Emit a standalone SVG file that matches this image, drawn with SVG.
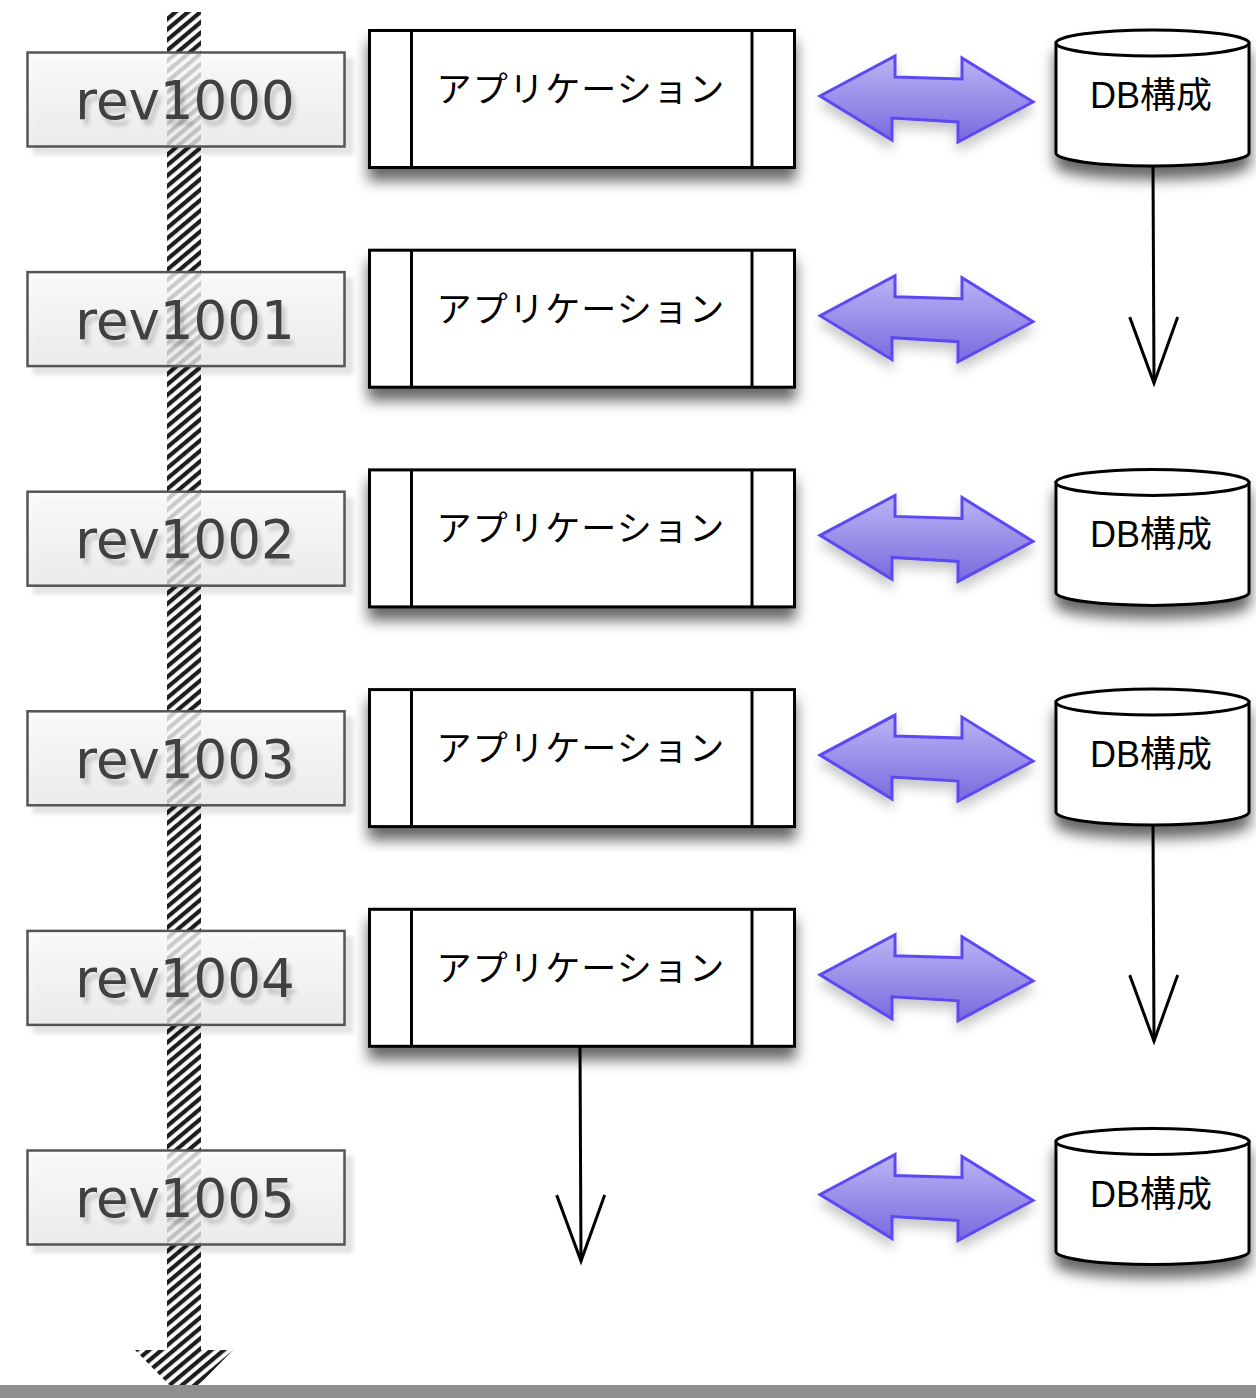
<svg xmlns="http://www.w3.org/2000/svg" width="1256" height="1398" viewBox="0 0 1256 1398">
<defs>
  <pattern id="hatch" patternUnits="userSpaceOnUse" width="8" height="8" patternTransform="rotate(50)">
    <rect width="8" height="8" fill="#ffffff"/>
    <rect width="4.2" height="8" fill="#1e1e1e"/>
  </pattern>
  <linearGradient id="revFill" x1="0" y1="0" x2="0" y2="1">
    <stop offset="0" stop-color="#fbfbfb"/>
    <stop offset="1" stop-color="#e9e9e9"/>
  </linearGradient>
  <linearGradient id="dblFill" x1="0" y1="0" x2="0" y2="1">
    <stop offset="0" stop-color="#bcb5f5"/>
    <stop offset="1" stop-color="#786ade"/>
  </linearGradient>
  <filter id="shBox" x="-10%" y="-20%" width="120%" height="160%">
    <feDropShadow dx="0" dy="12" stdDeviation="7" flood-color="#000" flood-opacity="0.6"/>
  </filter>
  <filter id="shDbl" x="-20%" y="-30%" width="140%" height="170%">
    <feDropShadow dx="0" dy="8" stdDeviation="6" flood-color="#000" flood-opacity="0.22"/>
  </filter>
  <filter id="shRev" x="-10%" y="-20%" width="125%" height="150%">
    <feDropShadow dx="7" dy="7" stdDeviation="2" flood-color="#000" flood-opacity="0.13"/>
  </filter>
  <filter id="shText" x="-10%" y="-30%" width="125%" height="170%">
    <feDropShadow dx="4" dy="6" stdDeviation="2" flood-color="#000" flood-opacity="0.18"/>
  </filter>
  <marker id="vhead" markerUnits="userSpaceOnUse" viewBox="0 0 70 52" refX="66" refY="26" markerWidth="70" markerHeight="52" orient="auto" overflow="visible">
    <path d="M0,2 L66,26 L0,50" fill="none" stroke="#000" stroke-width="3"/>
  </marker>
</defs>
<style>
  .rev rect { fill: url(#revFill); fill-opacity: 0.78; stroke: #555; stroke-width: 2.5; }
  .rev text { font-family: "DejaVu Sans", Verdana, sans-serif; font-size: 53px; fill: #404040; text-anchor: middle; }
  .app rect { fill: #fff; stroke: #000; stroke-width: 3; }
  .app line { stroke: #000; stroke-width: 3; }
  .app text { font-family: "Noto Sans CJK JP", sans-serif; font-size: 35px; letter-spacing: 1.2px; fill: #000; text-anchor: middle; }
  .db path, .db ellipse { fill: #fff; stroke: #000; stroke-width: 3; }
  .db text { font-family: "Liberation Sans", "Noto Sans CJK JP", sans-serif; font-size: 36px; fill: #000; text-anchor: middle; }
  .dbl { fill: url(#dblFill); stroke: #5b49f2; stroke-width: 3; stroke-linejoin: miter; }
  .down { fill: none; stroke: #000; stroke-width: 3; marker-end: url(#vhead); }
</style>
<rect x="0" y="0" width="1256" height="1398" fill="#ffffff"/>

<g id="timeline">
  <path d="M167,12 L201,12 L201,1350 L233,1350 L184,1400 L135,1350 L167,1350 Z" fill="url(#hatch)"/>
</g>

<g id="rev1000" class="rev" filter="url(#shRev)">
  <rect x="27.5" y="52.5" width="317" height="94"/>
  <text x="185" y="119" filter="url(#shText)">rev1000</text>
</g>
<g id="rev1001" class="rev" filter="url(#shRev)" transform="translate(0,219.6)">
  <rect x="27.5" y="52.5" width="317" height="94"/>
  <text x="185" y="119" filter="url(#shText)">rev1001</text>
</g>
<g id="rev1002" class="rev" filter="url(#shRev)" transform="translate(0,439.2)">
  <rect x="27.5" y="52.5" width="317" height="94"/>
  <text x="185" y="119" filter="url(#shText)">rev1002</text>
</g>
<g id="rev1003" class="rev" filter="url(#shRev)" transform="translate(0,658.8)">
  <rect x="27.5" y="52.5" width="317" height="94"/>
  <text x="185" y="119" filter="url(#shText)">rev1003</text>
</g>
<g id="rev1004" class="rev" filter="url(#shRev)" transform="translate(0,878.4)">
  <rect x="27.5" y="52.5" width="317" height="94"/>
  <text x="185" y="119" filter="url(#shText)">rev1004</text>
</g>
<g id="rev1005" class="rev" filter="url(#shRev)" transform="translate(0,1098)">
  <rect x="27.5" y="52.5" width="317" height="94"/>
  <text x="185" y="119" filter="url(#shText)">rev1005</text>
</g>

<g id="app0" class="app" transform="translate(0,0)">
  <rect x="369.5" y="30.5" width="425" height="137" filter="url(#shBox)"/>
  <line x1="411.5" y1="30.5" x2="411.5" y2="167.5"/>
  <line x1="752" y1="30.5" x2="752" y2="167.5"/>
  <text x="581" y="102">アプリケーション</text>
</g>
<g id="app1" class="app" transform="translate(0,219.7)">
  <rect x="369.5" y="30.5" width="425" height="137" filter="url(#shBox)"/>
  <line x1="411.5" y1="30.5" x2="411.5" y2="167.5"/>
  <line x1="752" y1="30.5" x2="752" y2="167.5"/>
  <text x="581" y="102">アプリケーション</text>
</g>
<g id="app2" class="app" transform="translate(0,439.4)">
  <rect x="369.5" y="30.5" width="425" height="137" filter="url(#shBox)"/>
  <line x1="411.5" y1="30.5" x2="411.5" y2="167.5"/>
  <line x1="752" y1="30.5" x2="752" y2="167.5"/>
  <text x="581" y="102">アプリケーション</text>
</g>
<g id="app3" class="app" transform="translate(0,659.1)">
  <rect x="369.5" y="30.5" width="425" height="137" filter="url(#shBox)"/>
  <line x1="411.5" y1="30.5" x2="411.5" y2="167.5"/>
  <line x1="752" y1="30.5" x2="752" y2="167.5"/>
  <text x="581" y="102">アプリケーション</text>
</g>
<g id="app4" class="app" transform="translate(0,878.8)">
  <rect x="369.5" y="30.5" width="425" height="137" filter="url(#shBox)"/>
  <line x1="411.5" y1="30.5" x2="411.5" y2="167.5"/>
  <line x1="752" y1="30.5" x2="752" y2="167.5"/>
  <text x="581" y="102">アプリケーション</text>
</g>

<g id="db0" class="db" transform="translate(0,0)">
  <g filter="url(#shBox)">
    <path d="M1056,43 L1056,153 A96.5,13 0 0 0 1249,153 L1249,43 Z"/>
    <ellipse cx="1152.5" cy="43" rx="96.5" ry="13"/>
  </g>
  <text x="1151" y="108">DB構成</text>
</g>
<g id="db2" class="db" transform="translate(0,439.4)">
  <g filter="url(#shBox)">
    <path d="M1056,43 L1056,153 A96.5,13 0 0 0 1249,153 L1249,43 Z"/>
    <ellipse cx="1152.5" cy="43" rx="96.5" ry="13"/>
  </g>
  <text x="1151" y="108">DB構成</text>
</g>
<g id="db3" class="db" transform="translate(0,659.1)">
  <g filter="url(#shBox)">
    <path d="M1056,43 L1056,153 A96.5,13 0 0 0 1249,153 L1249,43 Z"/>
    <ellipse cx="1152.5" cy="43" rx="96.5" ry="13"/>
  </g>
  <text x="1151" y="108">DB構成</text>
</g>
<g id="db5" class="db" transform="translate(0,1098.5)">
  <g filter="url(#shBox)">
    <path d="M1056,43 L1056,153 A96.5,13 0 0 0 1249,153 L1249,43 Z"/>
    <ellipse cx="1152.5" cy="43" rx="96.5" ry="13"/>
  </g>
  <text x="1151" y="108">DB構成</text>
</g>

<g id="connectors">
  <g filter="url(#shDbl)">
    <path class="dbl" d="M820,96 L895,56 L895,77 L962,79 L962,58 L1033,102 L958,142 L958,122 L892,118 L892,140 Z"/>
    <path class="dbl" transform="translate(0,219.7)" d="M820,96 L895,56 L895,77 L962,79 L962,58 L1033,102 L958,142 L958,122 L892,118 L892,140 Z"/>
    <path class="dbl" transform="translate(0,439.4)" d="M820,96 L895,56 L895,77 L962,79 L962,58 L1033,102 L958,142 L958,122 L892,118 L892,140 Z"/>
    <path class="dbl" transform="translate(0,659.1)" d="M820,96 L895,56 L895,77 L962,79 L962,58 L1033,102 L958,142 L958,122 L892,118 L892,140 Z"/>
    <path class="dbl" transform="translate(0,878.8)" d="M820,96 L895,56 L895,77 L962,79 L962,58 L1033,102 L958,142 L958,122 L892,118 L892,140 Z"/>
    <path class="dbl" transform="translate(0,1098.5)" d="M820,96 L895,56 L895,77 L962,79 L962,58 L1033,102 L958,142 L958,122 L892,118 L892,140 Z"/>
  </g>
  <path class="down" d="M1153,167 L1154,383"/>
  <path class="down" d="M1153,826 L1154,1041"/>
  <path class="down" d="M580,1046 L581,1261"/>
</g>

<rect x="0" y="1385" width="1256" height="13" fill="#8f8f8f"/>
</svg>
